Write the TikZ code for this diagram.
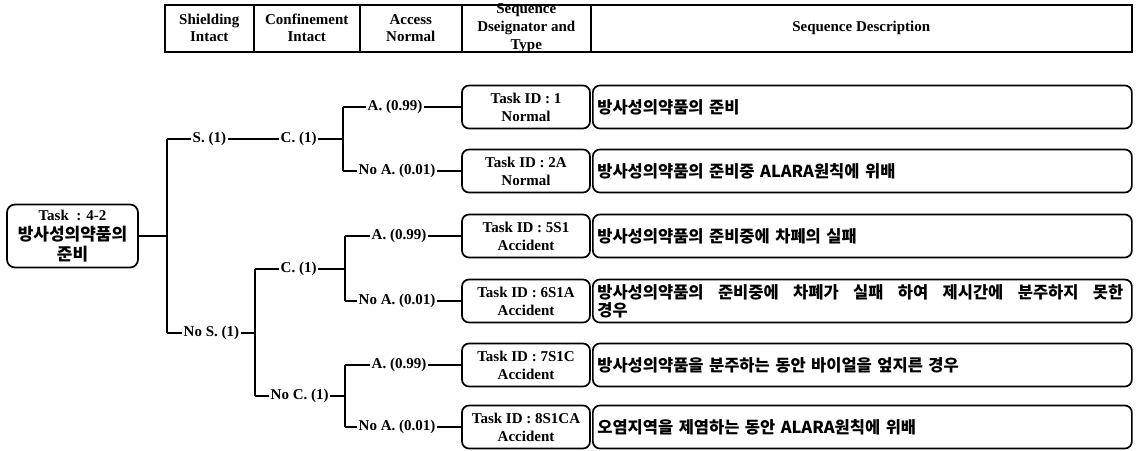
\documentclass[tikz,border=0pt]{standalone}
\usepackage{fontspec}
\setmainfont{Liberation Serif}
\newfontfamily\kr{Noto Sans CJK KR}[WordSpace=2.8]
\begin{document}
\begin{tikzpicture}[x=1pt,y=-1pt,
  conn/.style={line width=1.7pt},
  hdr/.style={draw,line width=1.5pt,inner sep=0pt,anchor=north west,minimum height=47pt},
  hdrtext/.style={font=\bfseries\fontsize{15}{17}\selectfont,align=center,inner sep=0pt},
  taskbox/.style={draw,line width=1.7pt,rounded corners=7pt,minimum width=128pt,minimum height=43pt,align=center,font=\bfseries\fontsize{15}{18}\selectfont,inner sep=0pt},
  descbox/.style={draw,line width=1.7pt,rounded corners=7pt,minimum width=539pt,minimum height=43pt,text width=530pt,align=left,font=\kr\bfseries\fontsize{16.5}{18}\selectfont,inner xsep=4pt,anchor=west},
  lbl/.style={inner xsep=1.5pt,inner ysep=0pt,anchor=west,font=\bfseries\fontsize{15}{17}\selectfont}
]
\useasboundingbox (0,0) rectangle (1137,450);
% header cells
\node[hdr,minimum width=89pt] (h1) at (164,4) {};
\node[hdr,minimum width=106pt] (h2) at (253,4) {};
\node[hdr,minimum width=102pt] (h3) at (359,4) {};
\node[hdr,minimum width=129pt] (h4) at (461,4) {};
\node[hdr,minimum width=541pt] (h5) at (590,4) {};
\node[hdrtext] (h1t) at (h1.center) {Shielding\\Intact};
\node[hdrtext] (h2t) at (h2.center) {Confinement\\Intact};
\node[hdrtext] (h3t) at (h3.center) {Access\\Normal};
\node[hdrtext,font=\bfseries\fontsize{15}{18}\selectfont] (h4t) at (h4.center) {Sequence\\Dseignator and\\Type};
\node[hdrtext] (h5t) at (h5.center) {Sequence Description};
% root
\node[draw,line width=1.7pt,rounded corners=8pt,minimum width=131pt,minimum height=63pt,align=center,inner sep=0pt,font=\fontsize{17}{20}\selectfont] (root) at (72.5,236)
  {{\bfseries\fontsize{15}{20}\selectfont Task~~: 4-2}\\{\kr\bfseries 방사성의약품의}\\{\kr\bfseries 준비}};
% first level
\coordinate (b0) at (167,236);
\coordinate (b0t) at (167,139);
\coordinate (b0b) at (167,333);
\draw[conn] (root.east) -- (b0);
\draw[conn] (b0t) -- (b0b);
% S branch
\node[lbl] (s) at (191,139) {S. (1)};
\draw[conn] (b0t) -- (s.west);
\node[lbl] (c1) at (279,139) {C. (1)};
\draw[conn] (s.east) -- (c1.west);
\coordinate (b1) at (343,139);
\coordinate (b1t) at (343,107);
\coordinate (b1b) at (343,171);
\draw[conn] (c1.east) -- (b1);
\draw[conn] (b1t) -- (b1b);
% No S branch
\node[lbl] (ns) at (182,333) {No S. (1)};
\draw[conn] (b0b) -- (ns.west);
\coordinate (b2) at (255,333);
\coordinate (b2t) at (255,269);
\coordinate (b2b) at (255,396);
\draw[conn] (ns.east) -- (b2);
\draw[conn] (b2t) -- (b2b);
\node[lbl] (c2) at (279,269) {C. (1)};
\draw[conn] (b2t) -- (c2.west);
\coordinate (b3) at (345,269);
\coordinate (b3t) at (345,236);
\coordinate (b3b) at (345,301);
\draw[conn] (c2.east) -- (b3);
\draw[conn] (b3t) -- (b3b);
\node[lbl] (nc) at (269,396) {No C. (1)};
\draw[conn] (b2b) -- (nc.west);
\coordinate (b4) at (345,396);
\coordinate (b4t) at (345,365);
\coordinate (b4b) at (345,427);
\draw[conn] (nc.east) -- (b4);
\draw[conn] (b4t) -- (b4b);
% leaves
\node[taskbox] (t1) at (526,107) {Task ID : 1\\Normal};
\node[taskbox] (t2) at (526,171) {Task ID : 2A\\Normal};
\node[taskbox] (t3) at (526,236) {Task ID : 5S1\\Accident};
\node[taskbox] (t4) at (526,301) {Task ID : 6S1A\\Accident};
\node[taskbox] (t5) at (526,365) {Task ID : 7S1C\\Accident};
\node[taskbox] (t6) at (526,427) {Task ID : 8S1CA\\Accident};
\node[lbl] (a1) at (366,107) {A. (0.99)};
\node[lbl] (n1) at (357,171) {No A. (0.01)};
\node[lbl] (a2) at (370,236) {A. (0.99)};
\node[lbl] (n2) at (357,301) {No A. (0.01)};
\node[lbl] (a3) at (370,365) {A. (0.99)};
\node[lbl] (n3) at (357,427) {No A. (0.01)};
\draw[conn] (b1t) -- (a1.west);  \draw[conn] (a1.east) -- (t1.west);
\draw[conn] (b1b) -- (n1.west);  \draw[conn] (n1.east) -- (t2.west);
\draw[conn] (b3t) -- (a2.west);  \draw[conn] (a2.east) -- (t3.west);
\draw[conn] (b3b) -- (n2.west);  \draw[conn] (n2.east) -- (t4.west);
\draw[conn] (b4t) -- (a3.west);  \draw[conn] (a3.east) -- (t5.west);
\draw[conn] (b4b) -- (n3.west);  \draw[conn] (n3.east) -- (t6.west);
\node[descbox] (d1) at (592,107) {방사성의약품의 준비};
\node[descbox] (d2) at (592,171) {방사성의약품의 준비중 ALARA원칙에 위배};
\node[descbox] (d3) at (592,236) {방사성의약품의 준비중에 차폐의 실패};
\node[descbox] (d4) at (592,301) {\hbox to 526pt{방사성의약품의\hfill 준비중에\hfill 차폐가\hfill 실패\hfill 하여\hfill 제시간에\hfill 분주하지\hfill 못한}\\경우};
\node[descbox] (d5) at (592,365) {방사성의약품을 분주하는 동안 바이얼을 엎지른 경우};
\node[descbox] (d6) at (592,427) {오염지역을 제염하는 동안 ALARA원칙에 위배};
\end{tikzpicture}
\end{document}
